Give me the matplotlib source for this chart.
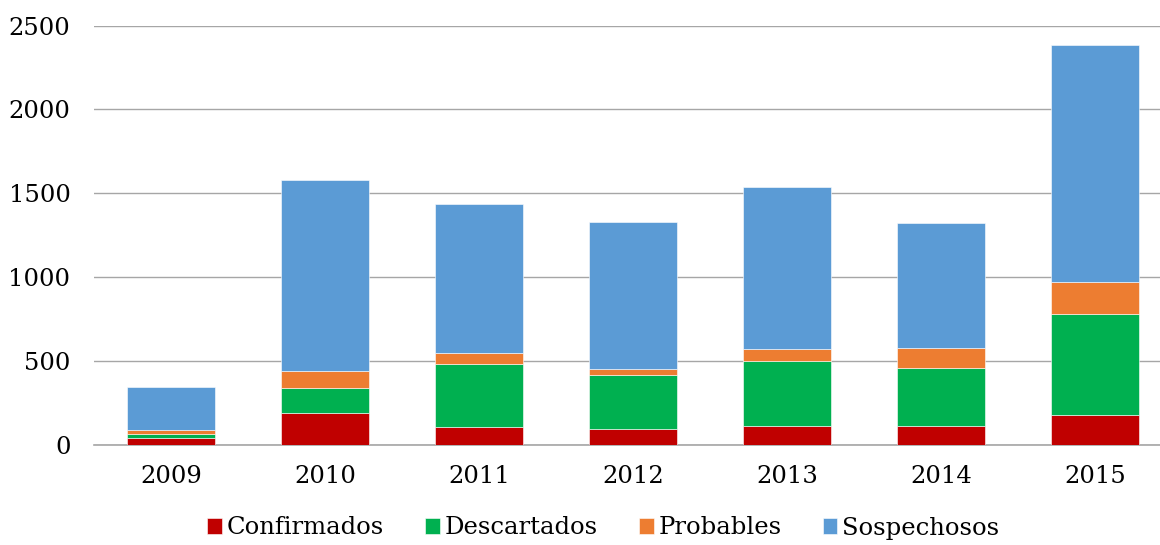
import matplotlib.pyplot as plt
import numpy as np

# Casos por año y clasificación
years = ['2009', '2010', '2011', '2012', '2013', '2014', '2015']
confirmados = [41, 190, 103, 93, 109, 109, 175]
descartados = [24, 150, 380, 319, 390, 350, 604]
probables = [20, 100, 62, 38, 74, 116, 193]
sospechosos = [257, 1136, 893, 880, 967, 749, 1412]

series = [
    ('Confirmados', confirmados, '#C00000'),
    ('Descartados', descartados, '#00B050'),
    ('Probables', probables, '#ED7D31'),
    ('Sospechosos', sospechosos, '#5B9BD5'),
]

plt.rcParams['font.family'] = ['DejaVu Serif']

fig = plt.figure(figsize=(11.6, 5.45), dpi=100)
ax = fig.add_axes([94 / 1160, 100.5 / 545, 1066 / 1160, 418.8 / 545])

x = np.arange(len(years))
bottom = np.zeros(len(years))
for name, vals, color in series:
    ax.bar(x, vals, width=0.57, bottom=bottom, color=color, label=name,
           edgecolor='white', linewidth=0.4, zorder=3)
    bottom += np.array(vals)

ax.set_ylim(0, 2500)
ax.set_xlim(-0.5, 6.42)
ax.set_yticks(range(0, 2501, 500))
ax.set_xticks(x)
ax.set_xticklabels(years)
ax.tick_params(axis='both', length=0, labelsize=17.5, colors='#000000')
ax.tick_params(axis='x', pad=15)
ax.tick_params(axis='y', pad=17)

ax.grid(axis='y', color='#a6a6a6', linewidth=1, zorder=0)
for side in ['top', 'right', 'left']:
    ax.spines[side].set_visible(False)
ax.spines['bottom'].set_color('#a6a6a6')
ax.spines['bottom'].set_linewidth(1.2)

fig.legend(loc='center', bbox_to_anchor=(0.52, 17 / 545), ncol=4, frameon=False,
           fontsize=17.5, handlelength=0.6, handleheight=0.6, handletextpad=0.2,
           columnspacing=1.7)

plt.savefig('out.png')
